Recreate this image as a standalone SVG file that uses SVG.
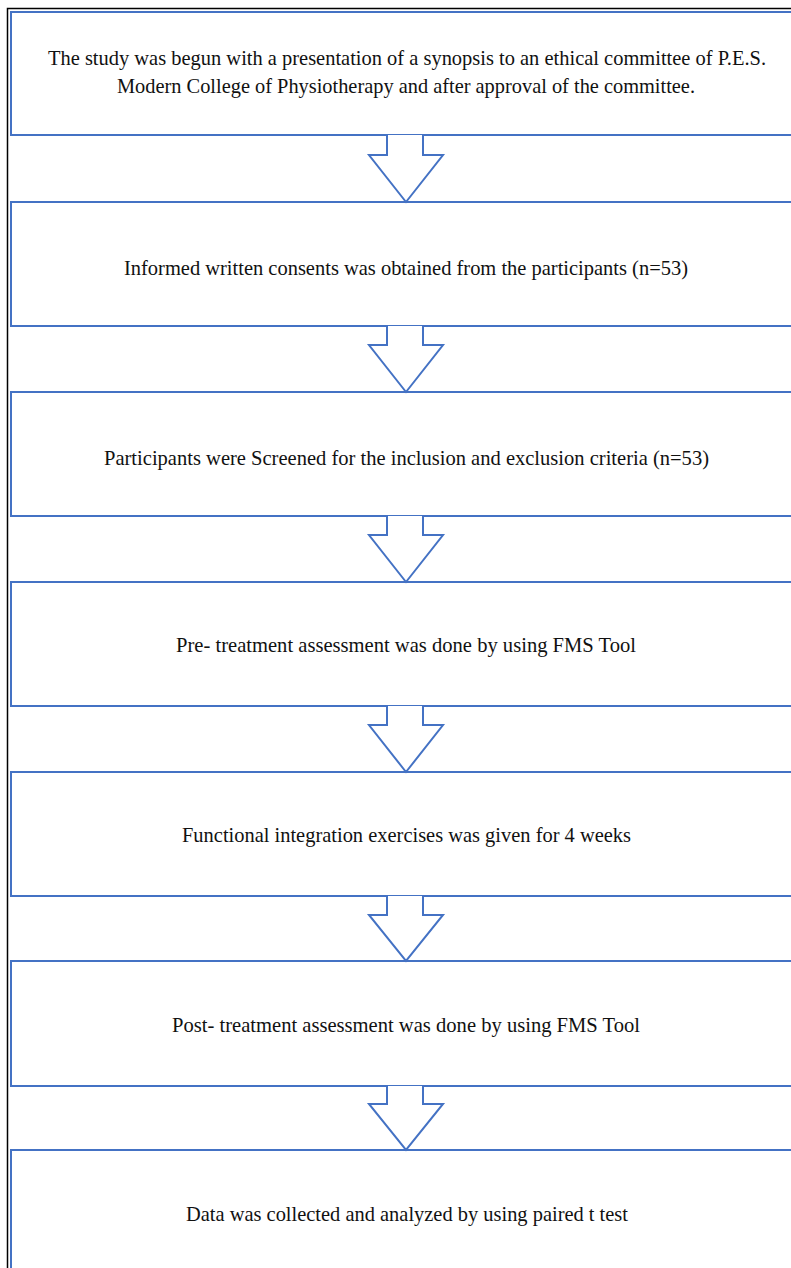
<svg xmlns="http://www.w3.org/2000/svg" width="791" height="1268" viewBox="0 0 791 1268">
<style>
.box{fill:#fff;stroke:#4472C4;stroke-width:2}
.arr{fill:#fff;stroke:#4472C4;stroke-width:2;stroke-linejoin:miter}
.t{font-family:"Liberation Serif","Times New Roman",serif;font-size:22px;fill:#111;text-anchor:middle}
.frame{fill:none;stroke:#000;stroke-width:1.5}
</style>
<rect width="791" height="1268" fill="#fff"/>
<path class="frame" d="M7.5,1268 V8.5 H791"/>
<g id="n1"><rect class="box" x="11" y="12" width="800" height="123"/>
<text class="t" x="407" y="65" textLength="718" lengthAdjust="spacingAndGlyphs" style="font-size:21px">The study was begun with a presentation of a synopsis to an ethical committee of P.E.S.</text>
<text class="t" x="406" y="93" textLength="578" lengthAdjust="spacingAndGlyphs">Modern College of Physiotherapy and after approval of the committee.</text></g>
<g id="n2"><rect class="box" x="11" y="202" width="800" height="124"/>
<text class="t" x="406" y="275" textLength="564" lengthAdjust="spacingAndGlyphs">Informed written consents was obtained from the participants (n=53)</text></g>
<g id="n3"><rect class="box" x="11" y="392" width="800" height="124"/>
<text class="t" x="406.5" y="465" textLength="605" lengthAdjust="spacingAndGlyphs">Participants were Screened  for the inclusion and exclusion criteria (n=53)</text></g>
<g id="n4"><rect class="box" x="11" y="582" width="800" height="124"/>
<text class="t" x="406" y="652" textLength="460" lengthAdjust="spacingAndGlyphs">Pre- treatment assessment was done by using FMS Tool</text></g>
<g id="n5"><rect class="box" x="11" y="772" width="800" height="124"/>
<text class="t" x="406.5" y="842" textLength="449" lengthAdjust="spacingAndGlyphs">Functional integration exercises was given for 4 weeks</text></g>
<g id="n6"><rect class="box" x="11" y="961" width="800" height="125"/>
<text class="t" x="406" y="1032" textLength="468" lengthAdjust="spacingAndGlyphs">Post- treatment assessment was done by using FMS Tool</text></g>
<g id="n7"><rect class="box" x="11" y="1150" width="800" height="140"/>
<text class="t" x="407" y="1221" textLength="442" lengthAdjust="spacingAndGlyphs">Data was collected and analyzed by using paired t test</text></g>
<g id="connectors">
<path class="arr" d="M387,135 V155 H369 L406,202 L443,155 H423 V135"/>
<path class="arr" d="M387,326 V345 H369 L406,392 L443,345 H423 V326"/>
<path class="arr" d="M387,516 V535 H369 L406,582 L443,535 H423 V516"/>
<path class="arr" d="M387,706 V725 H369 L406,772 L443,725 H423 V706"/>
<path class="arr" d="M387,896 V915 H369 L406,961 L443,915 H423 V896"/>
<path class="arr" d="M387,1086 V1104 H369 L406,1150 L443,1104 H423 V1086"/>
</g>
</svg>
